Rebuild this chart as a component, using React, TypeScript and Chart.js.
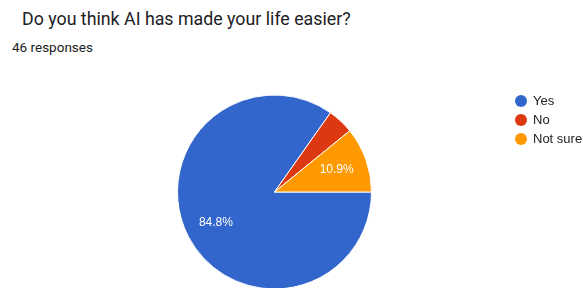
import React, { useEffect, useRef } from "react";
import { Chart, registerables } from "chart.js";

Chart.register(...registerables);

const TITLE = "Do you think AI has made your life easier?";
const SUBTITLE = "46 responses";
const labels = ["Yes", "No", "Not sure"];
const counts = [39, 2, 5];
const colors = ["#3366cc", "#dc3912", "#ff9900"];

const W = 583;
const H = 300;

const pctLabelPlugin = {
  id: "pctLabels",
  afterDatasetsDraw(chart: any) {
    const ctx = chart.ctx;
    const meta = chart.getDatasetMeta(0);
    const data = chart.data.datasets[0].data as number[];
    const total = data.reduce((a, b) => a + b, 0);
    ctx.save();
    ctx.font = "12px Arial, 'Liberation Sans', sans-serif";
    ctx.fillStyle = "#ffffff";
    ctx.textAlign = "center";
    ctx.textBaseline = "middle";
    meta.data.forEach((arc: any, i: number) => {
      const pct = (data[i] / total) * 100;
      if (pct < 5) return;
      const p = arc.getProps(["x", "y", "startAngle", "endAngle", "outerRadius"], true);
      const mid = (p.startAngle + p.endAngle) / 2;
      const r = p.outerRadius * 0.68;
      ctx.fillText(pct.toFixed(1) + "%", p.x + Math.cos(mid) * r, p.y + Math.sin(mid) * r);
    });
    ctx.restore();
  },
};

const legendPlugin = {
  id: "customLegend",
  afterDraw(chart: any) {
    const ctx = chart.ctx;
    ctx.save();
    ctx.font = "13px Arial, 'Liberation Sans', sans-serif";
    ctx.textBaseline = "middle";
    ctx.textAlign = "left";
    labels.forEach((lab, i) => {
      const y = 101 + i * 19;
      ctx.beginPath();
      ctx.fillStyle = colors[i];
      ctx.arc(521, y, 6, 0, Math.PI * 2);
      ctx.fill();
      ctx.fillStyle = "#222222";
      ctx.fillText(lab, 533, y);
    });
    ctx.restore();
  },
};

export default function App() {
  const ref = useRef<HTMLCanvasElement | null>(null);
  useEffect(() => {
    document.body.style.margin = "0";
    document.body.style.overflow = "hidden";
    const chart = new Chart(ref.current as HTMLCanvasElement, {
      type: "pie",
      data: {
        labels,
        datasets: [
          {
            data: counts,
            backgroundColor: colors,
            borderColor: "#ffffff",
            borderWidth: 1,
          },
        ],
      },
      options: {
        responsive: false,
        animation: false,
        rotation: 90,
        layout: { padding: { left: 177, right: 211, top: 94, bottom: 10 } },
        plugins: {
          legend: { display: false },
          tooltip: { enabled: false },
          title: { display: false },
        },
      },
      plugins: [pctLabelPlugin, legendPlugin],
    });
    return () => chart.destroy();
  }, []);
  return (
    <div style={{ position: "fixed", left: 0, top: 0, width: W, height: 288, overflow: "hidden", background: "#fff" }}>
      <div
        style={{
          position: "absolute",
          left: 22,
          top: 8,
          fontFamily: "Roboto, Arial, sans-serif",
          fontSize: 17.8,
          color: "#202124",
          whiteSpace: "nowrap",
        }}
      >
        {TITLE}
      </div>
      <div
        style={{
          position: "absolute",
          left: 12,
          top: 39,
          fontFamily: "Roboto, Arial, sans-serif",
          fontSize: 13.5,
          color: "#202124",
          whiteSpace: "nowrap",
        }}
      >
        {SUBTITLE}
      </div>
      <canvas ref={ref} width={W} height={H} style={{ position: "absolute", left: 0, top: 0 }} />
    </div>
  );
}
